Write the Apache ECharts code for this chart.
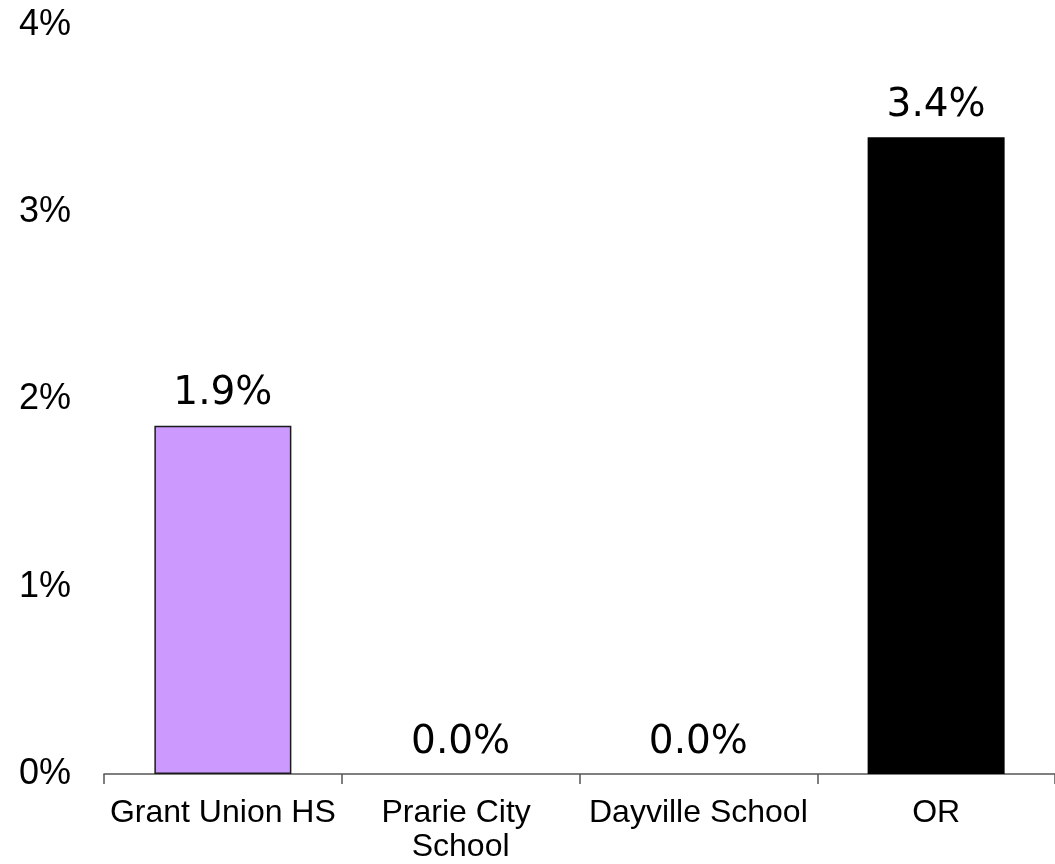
<!DOCTYPE html>
<html>
<head>
<meta charset="utf-8">
<script src="https://cdn.jsdelivr.net/npm/echarts@6/dist/echarts.min.js"></script>
<style>
html,body{margin:0;padding:0;background:#fff;}
#chart{width:1055px;height:864px;}
</style>
</head>
<body>
<div id="chart"></div>
<script>
const categories = ["Grant Union HS", "Prarie City School", "Dayville School", "OR"];
const values = [1.86, 0.0, 0.0, 3.40];
const barColors = ["#CC99FF", "#CC99FF", "#CC99FF", "#000000"];
const yTicks = [0, 1, 2, 3, 4];

const chart = echarts.init(document.getElementById('chart'));
chart.setOption({
  animation: false,
  backgroundColor: '#ffffff',
  grid: { left: 104, right: -1, top: 25, bottom: 89, containLabel: false },
  xAxis: {
    type: 'category',
    data: categories,
    axisLine: { show: true, lineStyle: { color: '#555555', width: 1.5 } },
    axisTick: { show: true, length: 10, alignWithLabel: false, lineStyle: { color: '#555555', width: 1.5 } },
    axisLabel: {
      fontFamily: 'Liberation Sans, Arial, sans-serif',
      fontSize: 32,
      color: '#000',
      margin: 22,
      lineHeight: 34,
      width: 232,
      overflow: 'break',
      interval: 0
    }
  },
  yAxis: {
    type: 'value',
    min: yTicks[0],
    max: yTicks[yTicks.length - 1],
    interval: 1,
    axisLine: { show: false },
    axisTick: { show: false },
    splitLine: { show: false },
    axisLabel: {
      fontFamily: 'Liberation Sans, Arial, sans-serif',
      fontSize: 36,
      color: '#000',
      margin: 33,
      formatter: v => v + '%'
    }
  },
  series: [{
    type: 'bar',
    barWidth: 137,
    data: values.map((v, i) => ({
      value: v,
      itemStyle: { color: barColors[i], borderColor: '#1a1a1a', borderWidth: (i === 3 || v === 0) ? 0 : 1.5 }
    })),
    label: {
      show: true,
      position: 'top',
      distance: 12,
      fontFamily: 'DejaVu Sans, Verdana, sans-serif',
      fontSize: 39,
      color: '#000',
      formatter: p => p.value.toFixed(1) + '%'
    }
  }]
});
</script>
</body>
</html>
